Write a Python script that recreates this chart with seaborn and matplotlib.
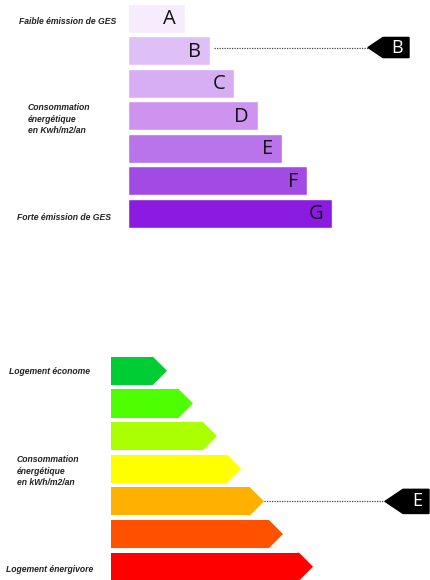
import matplotlib
matplotlib.use("Agg")
import matplotlib.pyplot as plt
import seaborn as sns
from matplotlib.patches import Polygon

# GES (émission) scale
ges_classes = ["A", "B", "C", "D", "E", "F", "G"]
ges_lengths = [57, 82, 106, 130, 154, 179, 204]
ges_colors = ["#f6ecfd", "#dfc0f6", "#d7aef4", "#cd93ef", "#b974eb", "#a24be4", "#8b1be0"]
ges_current = "B"

# energy consumption scale
ener_classes = ["A", "B", "C", "D", "E", "F", "G"]
ener_lengths = [56, 82, 106, 130, 153, 172, 202]
ener_colors = ["#00cc33", "#4dff00", "#aaff00", "#ffff00", "#ffb000", "#ff5100", "#ff0000"]
ener_current = "E"

W, H = 430, 580
fig = plt.figure(figsize=(W / 100, H / 100), dpi=100)
sns.set_style("white")

label_font = dict(family="Liberation Sans", weight="bold", style="italic",
                  fontsize=6.2, color="#222222")


def fx(px):
    return px / W


def fy(py):
    return 1 - py / H


def indicator(ax, yc, tip, shoulder, right, half_h, letter):
    # black pointer with a white letter
    poly = Polygon([(tip, yc), (shoulder, yc - half_h), (right, yc - half_h),
                    (right, yc + half_h), (shoulder, yc + half_h)],
                   closed=True, color="black", clip_on=False, zorder=3)
    ax.add_patch(poly)
    ax.text((shoulder + right) / 2 + 1, yc, letter, ha="center", va="center",
            family="Open Sans", fontsize=13, color="white", zorder=4)


# ---- top chart: GES ----
ax1 = fig.add_axes([fx(128), fy(229.5), fx(302), 227.5 / H])
sns.barplot(x=ges_lengths, y=ges_classes, hue=ges_classes, palette=ges_colors,
            legend=False, saturation=1, width=0.89, orient="h", ax=ax1)
ax1.set_xlim(0, 302)
ax1.set_ylim(6.5, -0.5)
ax1.axis("off")
for i, (c, v) in enumerate(zip(ges_classes, ges_lengths)):
    ax1.text(v - 9, i + 0.03, c, ha="right", va="center", family="Open Sans",
             fontsize=14.5, color="#111111")

k = ges_classes.index(ges_current)
yk = k - 0.1
ax1.plot([ges_lengths[k] + 4, 240], [yk, yk], ls=(0, (1, 1)), lw=0.9, color="#444444")
indicator(ax1, yk, 240, 255, 281, 0.31, ges_current)

fig.text(fx(19), fy(21), "Faible émission de GES", ha="left", va="center", **label_font)
fig.text(fx(28), fy(119), "Consommation\nénergétique\nen Kwh/m2/an", ha="left",
         va="center", linespacing=1.35, **label_font)
fig.text(fx(17), fy(217), "Forte émission de GES", ha="left", va="center", **label_font)

# ---- bottom chart: énergie ----
tip_len = 14
ax2 = fig.add_axes([fx(111), fy(583), fx(319), 228.5 / H])
sns.barplot(x=[v - tip_len for v in ener_lengths], y=ener_classes, hue=ener_classes,
            palette=ener_colors, legend=False, saturation=1, width=0.86,
            orient="h", linewidth=0, ax=ax2)
ax2.set_xlim(0, 319)
ax2.set_ylim(6.5, -0.5)
ax2.axis("off")
for p, col in zip(ax2.patches, ener_colors):
    x1 = p.get_x() + p.get_width()
    y0, h = p.get_y(), p.get_height()
    ax2.add_patch(Polygon([(x1 - 1.5, y0), (x1, y0), (x1 + tip_len, y0 + h / 2),
                           (x1, y0 + h), (x1 - 1.5, y0 + h)],
                          closed=True, color=col, lw=0))

k = ener_classes.index(ener_current)
ax2.plot([ener_lengths[k], 274], [k, k], ls=(0, (1, 1)), lw=0.9, color="#444444")
indicator(ax2, k, 274, 292, 318, 0.37, ener_current)

fig.text(fx(9), fy(372), "Logement économe", ha="left", va="center", **label_font)
fig.text(fx(17), fy(471), "Consommation\nénergétique\nen kWh/m2/an", ha="left",
         va="center", linespacing=1.35, **label_font)
fig.text(fx(6), fy(570), "Logement énergivore", ha="left", va="center", **label_font)

fig.savefig("out.png", dpi=100)
